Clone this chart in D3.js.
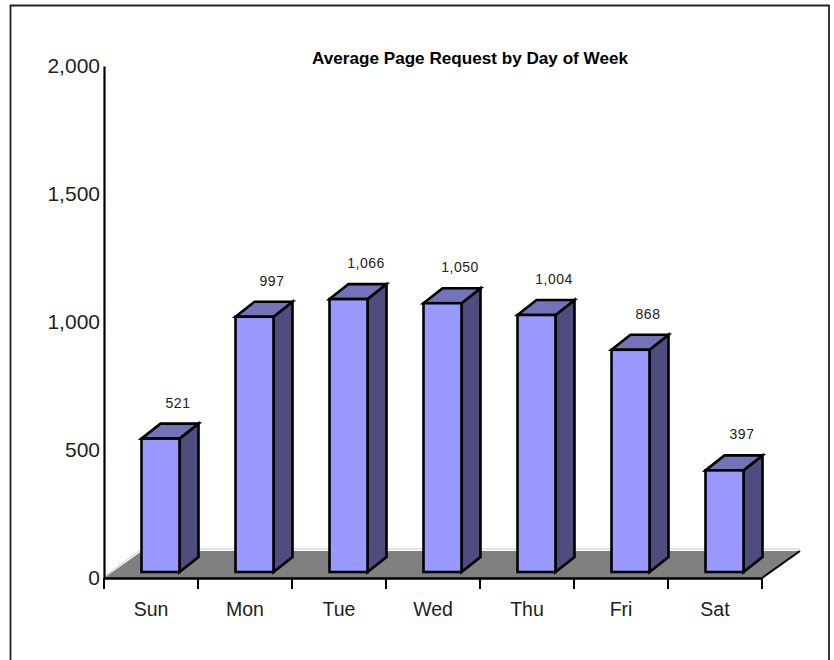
<!DOCTYPE html>
<html><head><meta charset="utf-8">
<script src="https://cdn.jsdelivr.net/npm/d3@7/dist/d3.min.js"></script>
<style>html,body{margin:0;padding:0;background:#fff}svg{display:block}</style>
</head><body><svg id="c" width="834" height="660"></svg>
<script>
const days = ["Sun","Mon","Tue","Wed","Thu","Fri","Sat"];
const requests = [521,997,1066,1050,1004,868,397];
const yTicks = [0,500,1000,1500,2000];
const chartTitle = "Average Page Request by Day of Week";

const svg = d3.select("#c");
const x0 = 104, x1 = 762, yBase = 578, yTop = 66;
const floorDx = 38, floorDy = 27;
const barDx = 19, barDy = 15;
const font = "'Liberation Sans', Arial, sans-serif";

// frame runs off the bottom of the picture
svg.append("path").attr("fill","none").attr("stroke","#222").attr("stroke-width",1.8)
  .attr("d","M10.5,662V5.5H829V662");

const x = d3.scaleBand().domain(days).range([x0,x1]);
const y = d3.scaleLinear().domain([0,2000]).range([yBase,yTop]);

// floor
svg.append("path").attr("fill","#808080")
  .attr("d",`M${x0},${yBase}L${x0+floorDx},${yBase-floorDy}H${x1+floorDx}L${x1},${yBase}Z`);
svg.append("path").attr("fill","none").attr("stroke","#c8c8c8").attr("stroke-width",1)
  .attr("d",`M${x0},${yBase-1}L${x0+floorDx},${yBase-floorDy-2}H${x1+floorDx}`);
svg.append("path").attr("fill","none").attr("stroke","#000").attr("stroke-width",2)
  .attr("d",`M${x1},${yBase}L${x1+floorDx},${yBase-floorDy}`);

// bars
const barW = 38, barInset = 37.5, barLift = 6;
const g = svg.append("g").selectAll("g").data(days).join("g");
const frontX = d => x(d)+barInset;
const topY = (i) => y(requests[i])-barLift;
const bottomY = yBase-barLift;
const st = s => s.attr("stroke","#000").attr("stroke-width",2.6).attr("stroke-linejoin","miter");

g.append("path").attr("fill","#4d4d80").call(st)
  .attr("d",(d,i)=>`M${frontX(d)+barW},${topY(i)}L${frontX(d)+barW+barDx},${topY(i)-barDy}V${bottomY-barDy}L${frontX(d)+barW},${bottomY}Z`);
g.append("path").attr("fill","#7373b8").call(st)
  .attr("d",(d,i)=>`M${frontX(d)},${topY(i)}L${frontX(d)+barDx},${topY(i)-barDy}H${frontX(d)+barW+barDx}L${frontX(d)+barW},${topY(i)}Z`);
g.append("rect").attr("fill","#9999ff").call(st)
  .attr("x",d=>frontX(d)).attr("width",barW)
  .attr("y",(d,i)=>topY(i)).attr("height",(d,i)=>bottomY-topY(i));
g.append("text").attr("font-family",font).attr("font-size",14).attr("letter-spacing",0.5).attr("fill","#222")
  .attr("text-anchor","middle")
  .attr("x",d=>frontX(d)+barW/2+17.5).attr("y",(d,i)=>topY(i)-31)
  .text((d,i)=>d3.format(",")(requests[i]));

// axes
const yAxis = d3.axisLeft(y).tickValues(yTicks).tickSize(0).tickPadding(4).tickFormat(d3.format(","));
const ya = svg.append("g").attr("transform",`translate(${x0},0)`).call(yAxis);
ya.select(".domain").attr("stroke","#000").attr("stroke-width",2.2);
ya.selectAll("text").attr("font-family",font).attr("font-size",21).attr("fill","#222");

const xAxis = d3.axisBottom(x).tickSize(0).tickPadding(24);
const xa = svg.append("g").attr("transform",`translate(0,${yBase})`).call(xAxis);
xa.select(".domain").attr("stroke","#000").attr("stroke-width",2.4);
xa.selectAll("text").attr("font-family",font).attr("font-size",19.5).attr("fill","#222");
const edges = d3.range(days.length+1).map(i=>x0+i*x.step());
svg.append("g").selectAll("line").data(edges).join("line")
  .attr("x1",d=>d).attr("x2",d=>d).attr("y1",yBase).attr("y2",yBase+11)
  .attr("stroke","#000").attr("stroke-width",2);

svg.append("text").attr("x",470).attr("y",64).attr("text-anchor","middle")
  .attr("font-family",font).attr("font-weight","bold").attr("font-size",16.5).attr("fill","#000")
  .attr("textLength",316).attr("lengthAdjust","spacingAndGlyphs")
  .text(chartTitle);
</script></body></html>
